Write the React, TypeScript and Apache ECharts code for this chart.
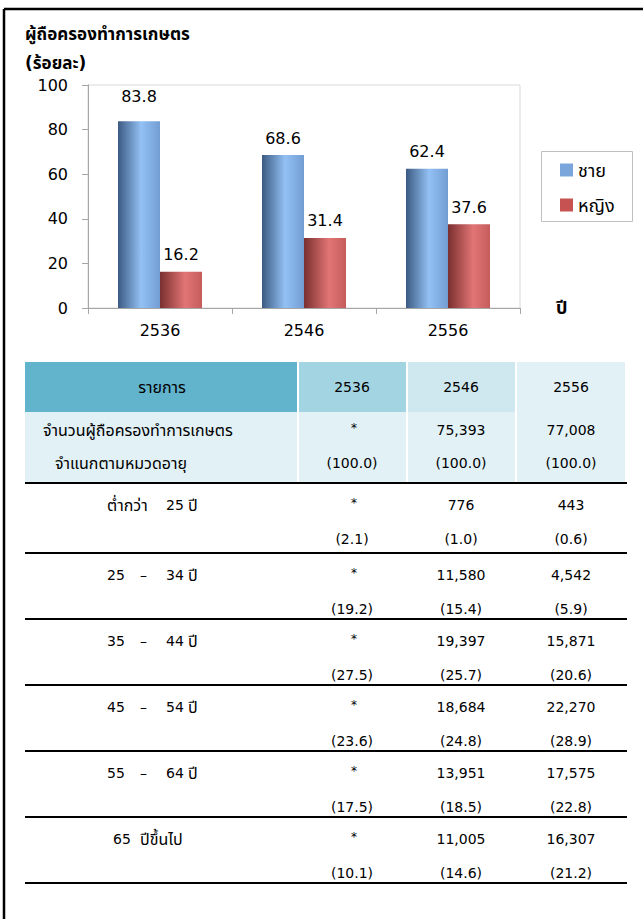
import React, { useEffect, useRef } from "react";
import * as echarts from "echarts";

const years = ["2536", "2546", "2556"];
const maleShare = [83.8, 68.6, 62.4];
const femaleShare = [16.2, 31.4, 37.6];
const seriesNames = ["ชาย", "หญิง"];
const yTicks = [0, 20, 40, 60, 80, 100];

const tableHeader = ["รายการ", "2536", "2546", "2556"];
const totalLabel = ["จำนวนผู้ถือครองทำการเกษตร", "จำแนกตามหมวดอายุ"];
const totalCounts = ["*", "75,393", "77,008"];
const totalPcts = ["(100.0)", "(100.0)", "(100.0)"];
const ageLabels = [
  ["ต่ำกว่า", "25", "ปี"],
  ["25", "–", "34", "ปี"],
  ["35", "–", "44", "ปี"],
  ["45", "–", "54", "ปี"],
  ["55", "–", "64", "ปี"],
  ["65", "ปีขึ้นไป"],
];
const count2536 = ["*", "*", "*", "*", "*", "*"];
const count2546 = ["776", "11,580", "19,397", "18,684", "13,951", "11,005"];
const count2556 = ["443", "4,542", "15,871", "22,270", "17,575", "16,307"];
const pct2536 = ["(2.1)", "(19.2)", "(27.5)", "(23.6)", "(17.5)", "(10.1)"];
const pct2546 = ["(1.0)", "(15.4)", "(25.7)", "(24.8)", "(18.5)", "(14.6)"];
const pct2556 = ["(0.6)", "(5.9)", "(20.6)", "(28.9)", "(22.8)", "(21.2)"];

const FONT = '"DejaVu Sans", Tahoma, "Noto Sans Thai", sans-serif';
const isThai = (s: string) => /[\u0E00-\u0E7F]/.test(s);

function txt(x: number, y: number, text: string, opts: any = {}) {
  return {
    type: "text",
    x,
    y,
    silent: true,
    style: {
      text,
      fill: "#000",
      fontSize: opts.fontSize || (isThai(text) ? 16 : 14),
      fontWeight: opts.fontWeight || "normal",
      fontFamily: FONT,
      textAlign: opts.align || "center",
      textVerticalAlign: "middle",
    },
  };
}

function hline(y: number, x1: number, x2: number, w = 2) {
  return {
    type: "line",
    silent: true,
    shape: { x1, y1: y, x2, y2: y },
    style: { stroke: "#000", lineWidth: w },
  };
}

function rect(x: number, y: number, w: number, h: number, fill: string) {
  return { type: "rect", silent: true, shape: { x, y, width: w, height: h }, style: { fill } };
}

export default function App() {
  const ref = useRef<HTMLDivElement>(null);
  useEffect(() => {
    if (!ref.current) return;
    const chart = echarts.init(ref.current, undefined, { renderer: "svg" });

    const blue = new echarts.graphic.LinearGradient(0, 0, 1, 0, [
      { offset: 0, color: "#3b5a82" },
      { offset: 0.55, color: "#93c1f4" },
      { offset: 1, color: "#729dd3" },
    ]);
    const red = new echarts.graphic.LinearGradient(0, 0, 1, 0, [
      { offset: 0, color: "#7a2f2f" },
      { offset: 0.6, color: "#e27575" },
      { offset: 1, color: "#c55c5c" },
    ]);

    const colX = [352, 461, 571];
    const graphics: any[] = [];
    // outer frame
    graphics.push({ type: "line", silent: true, shape: { x1: 4, y1: 9, x2: 643, y2: 9 }, style: { stroke: "#000", lineWidth: 2.5 } });
    graphics.push({ type: "line", silent: true, shape: { x1: 4, y1: 9, x2: 4, y2: 919 }, style: { stroke: "#000", lineWidth: 2.5 } });
    // chart title
    graphics.push(txt(25, 34, "ผู้ถือครองทำการเกษตร", { fontSize: 17, fontWeight: "bold", align: "left" }));
    graphics.push(txt(25, 63, "(ร้อยละ)", { fontSize: 17, fontWeight: "bold", align: "left" }));
    graphics.push(txt(556, 307, "ปี", { fontSize: 18, fontWeight: "bold", align: "left" }));
    // legend box
    graphics.push({ type: "rect", silent: true, shape: { x: 541.5, y: 151.5, width: 91, height: 70 }, style: { fill: "none", stroke: "#bfbfbf", lineWidth: 1 } });

    // table header
    graphics.push(rect(25, 362, 272, 50, "#62b4cc"));
    graphics.push(rect(299, 362, 107, 50, "#a3d4e1"));
    graphics.push(rect(408, 362, 107, 50, "#cfe8ef"));
    graphics.push(rect(517, 362, 108, 50, "#e2f1f6"));
    graphics.push(rect(25, 412, 272, 71, "#e2f1f6"));
    graphics.push(rect(299, 412, 107, 71, "#e2f1f6"));
    graphics.push(rect(408, 412, 107, 71, "#e2f1f6"));
    graphics.push(rect(517, 412, 108, 71, "#e2f1f6"));
    graphics.push(txt(162, 387, tableHeader[0]));
    for (let c = 0; c < 3; c++) graphics.push(txt(colX[c], 387, tableHeader[c + 1]));
    graphics.push(txt(43, 430, totalLabel[0], { align: "left" }));
    graphics.push(txt(55, 463, totalLabel[1], { align: "left" }));
    for (let c = 0; c < 3; c++) {
      graphics.push(txt(colX[c] + (c === 0 ? 2 : 0), c === 0 ? 428 : 430, totalCounts[c], c === 0 ? { fontSize: 12 } : {}));
      graphics.push(txt(colX[c], 463, totalPcts[c]));
    }

    const lines = [483, 553, 619, 685, 751, 817, 883];
    lines.forEach((y) => graphics.push(hline(y, 25, 627, 2)));
    const counts = [count2536, count2546, count2556];
    const pcts = [pct2536, pct2546, pct2556];
    ageLabels.forEach((parts, i) => {
      const top = lines[i];
      const ny = top + 22;
      const py = top + 56;
      const xs = parts.length === 4 ? [107, 140, 166, 188] : parts.length === 3 ? [107, 166, 188] : [113, 140];
      parts.forEach((p, k) => graphics.push(txt(xs[k], ny, p, { align: "left" })));
      for (let c = 0; c < 3; c++) {
        const isStar = counts[c][i] === "*";
        graphics.push(txt(colX[c] + (isStar ? 2 : 0), isStar ? ny - 2 : ny, counts[c][i], isStar ? { fontSize: 12 } : {}));
        graphics.push(txt(colX[c], py, pcts[c][i]));
      }
    });

    chart.setOption({
      animation: false,
      textStyle: { fontFamily: FONT },
      grid: { left: 88, top: 85, width: 432, height: 223, show: true, borderColor: "#d9d9d9", borderWidth: 1, backgroundColor: "transparent" },
      legend: {
        orient: "vertical",
        left: 560,
        top: 161,
        padding: 0,
        itemWidth: 13,
        itemHeight: 13,
        itemGap: 17,
        icon: "rect",
        data: [
          { name: seriesNames[0], itemStyle: { color: "#7aa6dc" } },
          { name: seriesNames[1], itemStyle: { color: "#c65352" } },
        ],
        textStyle: { fontSize: 18, color: "#000", fontFamily: FONT },
      },
      xAxis: {
        type: "category",
        data: years,
        axisLine: { lineStyle: { color: "#a6a6a6" } },
        axisTick: { show: true, length: 6, lineStyle: { color: "#a6a6a6" } },
        axisLabel: { fontSize: 16, color: "#000", margin: 14, fontFamily: FONT },
      },
      yAxis: {
        type: "value",
        min: 0,
        max: 100,
        interval: 20,
        axisLine: { show: true, lineStyle: { color: "#a6a6a6" } },
        axisTick: { show: true, length: 6, lineStyle: { color: "#a6a6a6" } },
        splitLine: { show: false },
        axisLabel: { fontSize: 16, color: "#000", margin: 20, fontFamily: FONT, formatter: (v: number) => (yTicks.includes(v) ? String(v) : "") },
      },
      series: [
        {
          name: seriesNames[0],
          type: "bar",
          data: maleShare.map((v, i) => (i === 0 ? { value: v, label: { distance: 17 } } : v)),
          barWidth: 42,
          barGap: "0%",
          itemStyle: { color: blue },
          label: { show: true, position: "top", distance: 9, fontSize: 16, color: "#000", fontFamily: FONT, formatter: (p: any) => p.value.toFixed(1) },
        },
        {
          name: seriesNames[1],
          type: "bar",
          data: femaleShare,
          barWidth: 42,
          barGap: "0%",
          itemStyle: { color: red },
          label: { show: true, position: "top", distance: 9, fontSize: 16, color: "#000", fontFamily: FONT, formatter: (p: any) => p.value.toFixed(1) },
        },
      ],
      color: ["#7aa6dc", "#c65352"],
      graphic: graphics,
    });
    return () => chart.dispose();
  }, []);
  return <div ref={ref} style={{ position: "absolute", left: 0, top: 0, width: 643, height: 919, background: "#fff" }} />;
}
